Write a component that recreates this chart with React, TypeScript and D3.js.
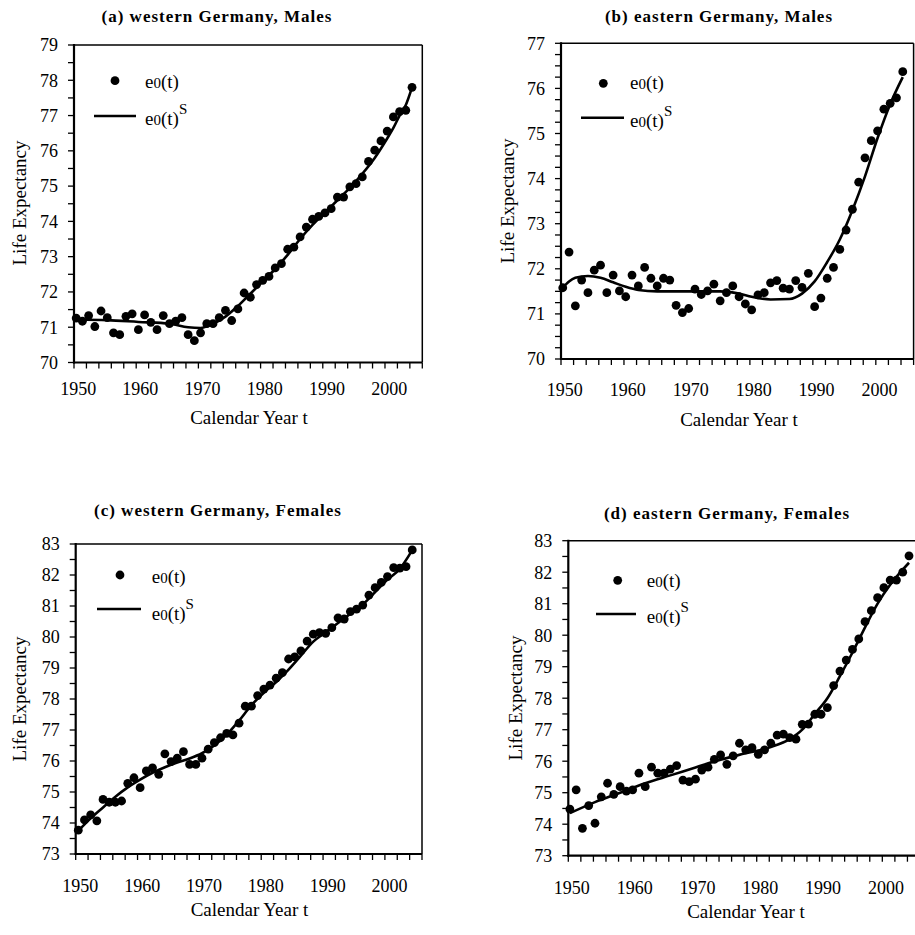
import React from 'react';
import * as d3 from 'd3';

// calendar years of the observed series
const years = [
  1950, 1951, 1952, 1953, 1954, 1955, 1956, 1957, 1958, 1959,
  1960, 1961, 1962, 1963, 1964, 1965, 1966, 1967, 1968, 1969,
  1970, 1971, 1972, 1973, 1974, 1975, 1976, 1977, 1978, 1979,
  1980, 1981, 1982, 1983, 1984, 1985, 1986, 1987, 1988, 1989,
  1990, 1991, 1992, 1993, 1994, 1995, 1996, 1997, 1998, 1999,
  2000, 2001, 2002, 2003, 2004,
];

// observed e0(t)
const westMales = [
  71.26, 71.17, 71.33, 71.02, 71.46, 71.27, 70.84, 70.79, 71.31, 71.38,
  70.93, 71.35, 71.14, 70.93, 71.33, 71.10, 71.17, 71.27, 70.79, 70.62,
  70.84, 71.10, 71.10, 71.27, 71.48, 71.19, 71.52, 71.97, 71.85, 72.21,
  72.33, 72.44, 72.68, 72.80, 73.21, 73.27, 73.56, 73.84, 74.06, 74.14,
  74.24, 74.36, 74.69, 74.69, 74.98, 75.07, 75.26, 75.70, 76.02, 76.28,
  76.56, 76.96, 77.11, 77.15, 77.80,
];
const eastMales = [
  71.58, 72.37, 71.18, 71.75, 71.47, 71.97, 72.08, 71.47, 71.86, 71.51,
  71.38, 71.86, 71.62, 72.03, 71.79, 71.62, 71.79, 71.75, 71.19, 71.03,
  71.12, 71.55, 71.43, 71.51, 71.66, 71.29, 71.47, 71.62, 71.38, 71.22,
  71.09, 71.42, 71.47, 71.69, 71.74, 71.57, 71.55, 71.74, 71.59, 71.90,
  71.16, 71.35, 71.79, 72.03, 72.43, 72.86, 73.32, 73.92, 74.46, 74.84,
  75.06, 75.54, 75.67, 75.79, 76.37,
];
const westFemales = [
  73.77, 74.10, 74.26, 74.07, 74.76, 74.67, 74.67, 74.71, 75.28, 75.46,
  75.14, 75.68, 75.78, 75.57, 76.23, 75.98, 76.09, 76.30, 75.89, 75.89,
  76.09, 76.38, 76.59, 76.75, 76.89, 76.84, 77.22, 77.77, 77.77, 78.11,
  78.32, 78.45, 78.67, 78.85, 79.29, 79.36, 79.55, 79.87, 80.09, 80.14,
  80.12, 80.30, 80.62, 80.58, 80.82, 80.90, 81.03, 81.35, 81.59, 81.76,
  81.95, 82.24, 82.22, 82.27, 82.81,
];
const eastFemales = [
  74.48, 75.09, 73.87, 74.59, 74.03, 74.87, 75.30, 74.95, 75.19, 75.05,
  75.09, 75.62, 75.19, 75.81, 75.62, 75.62, 75.75, 75.86, 75.40, 75.35,
  75.43, 75.72, 75.81, 76.06, 76.20, 75.90, 76.17, 76.57, 76.36, 76.43,
  76.22, 76.36, 76.57, 76.83, 76.86, 76.75, 76.70, 77.17, 77.18, 77.49,
  77.49, 77.70, 78.40, 78.86, 79.21, 79.55, 79.88, 80.43, 80.78, 81.19,
  81.51, 81.75, 81.75, 82.00, 82.52,
];

// smoothed e0(t)^S, read at selected years
const westMalesSmoothYears = [1950, 1955, 1960, 1965, 1968, 1970, 1972, 1974, 1976, 1978, 1980, 1982, 1984, 1986, 1988, 1990, 1992, 1994, 1996, 1998, 2000, 2001, 2002, 2003, 2004];
const westMalesSmooth = [71.22, 71.2, 71.15, 71.1, 71.0, 70.98, 71.1, 71.3, 71.6, 71.95, 72.3, 72.65, 73.05, 73.5, 73.9, 74.25, 74.6, 74.95, 75.35, 75.8, 76.35, 76.65, 77.0, 77.3, 77.8];

const eastMalesSmoothYears = [1950, 1951, 1952, 1954, 1956, 1958, 1960, 1962, 1965, 1970, 1975, 1978, 1980, 1983, 1986, 1988, 1990, 1992, 1994, 1996, 1998, 2000, 2002, 2004];
const eastMalesSmooth = [71.58, 71.72, 71.8, 71.84, 71.8, 71.7, 71.6, 71.53, 71.5, 71.5, 71.5, 71.45, 71.38, 71.32, 71.33, 71.45, 71.72, 72.15, 72.65, 73.3, 74.05, 74.9, 75.65, 76.25];

const westFemalesSmoothYears = [1950, 1952, 1954, 1956, 1958, 1960, 1962, 1964, 1966, 1968, 1970, 1972, 1974, 1976, 1978, 1980, 1982, 1984, 1986, 1988, 1990, 1992, 1994, 1996, 1998, 2000, 2002, 2004];
const westFemalesSmooth = [73.75, 74.15, 74.5, 74.85, 75.15, 75.4, 75.62, 75.8, 75.95, 76.08, 76.25, 76.5, 76.85, 77.3, 77.8, 78.2, 78.55, 78.95, 79.4, 79.85, 80.15, 80.45, 80.75, 81.05, 81.45, 81.85, 82.2, 82.8];

const eastFemalesSmoothYears = [1950, 1954, 1958, 1962, 1966, 1970, 1974, 1978, 1982, 1985, 1987, 1989, 1991, 1993, 1995, 1997, 1999, 2001, 2002, 2004];
const eastFemalesSmooth = [74.35, 74.7, 75.0, 75.3, 75.55, 75.8, 76.05, 76.25, 76.45, 76.7, 77.0, 77.5, 78.0, 78.7, 79.45, 80.25, 81.0, 81.6, 81.85, 82.3];

const yearLabels = [1950, 1960, 1970, 1980, 1990, 2000];

const FONT = "'Liberation Serif', 'Times New Roman', serif";

type Panel = {
  title: string;
  obs: number[];
  sYears: number[];
  sVals: number[];
  yDomain: [number, number];
  yMinor: number;
  xStart: number;
  box: { left: number; right: number; top: number; bottom: number };
  titlePos: [number, number];
  yLabelPos: [number, number];
  xLabelPos: [number, number];
  tickDy: number;
  legend: { dot: [number, number]; line: [number, number, number]; textX: number; t1: number; t2: number };
};

const panels: Panel[] = [
  {
    title: '(a) western Germany, Males',
    obs: westMales, sYears: westMalesSmoothYears, sVals: westMalesSmooth,
    yDomain: [70, 79], yMinor: 0.5, xStart: 1949.65,
    box: { left: 74, right: 422.3, top: 45, bottom: 362.5 },
    titlePos: [217, 22], yLabelPos: [26, 203], xLabelPos: [249, 424], tickDy: 32,
    legend: { dot: [115, 80.7], line: [94, 136, 116], textX: 145, t1: 88, t2: 125 },
  },
  {
    title: '(b) eastern Germany, Males',
    obs: eastMales, sYears: eastMalesSmoothYears, sVals: eastMalesSmooth,
    yDomain: [70, 77], yMinor: 0.25, xStart: 1949.72,
    box: { left: 561, right: 913.6, top: 43.3, bottom: 359 },
    titlePos: [719, 22], yLabelPos: [514, 201], xLabelPos: [739, 426], tickDy: 37,
    legend: { dot: [603.3, 83.3], line: [581, 624, 117.7], textX: 630, t1: 89, t2: 126.7 },
  },
  {
    title: '(c) western Germany, Females',
    obs: westFemales, sYears: westFemalesSmoothYears, sVals: westFemalesSmooth,
    yDomain: [73, 83], yMinor: 0.5, xStart: 1949.58,
    box: { left: 75.7, right: 422, top: 544, bottom: 854 },
    titlePos: [218, 516], yLabelPos: [26, 699], xLabelPos: [249.5, 916], tickDy: 38,
    legend: { dot: [120, 575], line: [97, 141, 609], textX: 151.7, t1: 583, t2: 620 },
  },
  {
    title: '(d) eastern Germany, Females',
    obs: eastFemales, sYears: eastFemalesSmoothYears, sVals: eastFemalesSmooth,
    yDomain: [73, 83], yMinor: 0.5, xStart: 1949.75,
    box: { left: 568.3, right: 920, top: 540.7, bottom: 855.7 },
    titlePos: [727, 519], yLabelPos: [522, 698], xLabelPos: [746, 918], tickDy: 38,
    legend: { dot: [617.7, 580.3], line: [596, 636, 614], textX: 646.7, t1: 586.7, t2: 623 },
  },
];

const E0: React.FC<{ x: number; y: number; sup?: boolean }> = ({ x, y, sup }) => (
  <text x={x} y={y} fontSize={19} fontFamily={FONT}>
    e<tspan fontSize={15}>0</tspan>(t)
    {sup && <tspan fontSize={15} dy={-11}>S</tspan>}
  </text>
);

const ChartPanel: React.FC<{ p: Panel }> = ({ p }) => {
  const { left, right, top, bottom } = p.box;
  const x = d3.scaleLinear().domain([p.xStart, p.xStart + 56]).range([left, right]);
  const y = d3.scaleLinear().domain(p.yDomain).range([bottom, top]);

  const xTicks = d3.range(0, 29).map(k => p.xStart + 2 * k);
  const yMinorTicks = d3.range(p.yDomain[0], p.yDomain[1] + 1e-6, p.yMinor);
  const yMajor = d3.range(p.yDomain[0], p.yDomain[1] + 1e-6, 1);

  const line = d3.line<number>()
    .x((_, i) => x(p.sYears[i]))
    .y(d => y(d))
    .curve(d3.curveMonotoneX);

  return (
    <g>
      <text x={p.titlePos[0]} y={p.titlePos[1]} textAnchor="middle" fontSize={17}
        fontWeight="bold" fontFamily={FONT} letterSpacing={1}>{p.title}</text>

      {/* frame */}
      <line x1={left} x2={right} y1={top} y2={top} stroke="#000" strokeWidth={1.5} />
      <line x1={right} x2={right} y1={top} y2={bottom} stroke="#000" strokeWidth={1.5} />

      {/* y axis */}
      {yMinorTicks.map(v => (
        <line key={'ym' + v} x1={left - 6} x2={left} y1={y(v)} y2={y(v)} stroke="#000" strokeWidth={1.3} />
      ))}
      {yMajor.map(v => (
        <text key={'yl' + v} x={left - 16} y={y(v)} dy="0.35em" textAnchor="end"
          fontSize={18} fontFamily={FONT}>{v}</text>
      ))}
      <line x1={left} x2={left} y1={top - 1} y2={bottom + 1} stroke="#000" strokeWidth={2.2} />

      {/* x axis */}
      {xTicks.map(v => (
        <line key={'xt' + v} x1={x(v)} x2={x(v)} y1={bottom} y2={bottom + 6} stroke="#000" strokeWidth={1.3} />
      ))}
      {yearLabels.map(v => (
        <text key={'xl' + v} x={x(v) + 2} y={bottom + p.tickDy} textAnchor="middle"
          fontSize={18} fontFamily={FONT}>{v}</text>
      ))}
      <line x1={left - 1} x2={right} y1={bottom} y2={bottom} stroke="#000" strokeWidth={2.2} />

      <text x={p.xLabelPos[0]} y={p.xLabelPos[1]} textAnchor="middle" fontSize={19} fontFamily={FONT}>
        Calendar Year t
      </text>
      <text transform={`translate(${p.yLabelPos[0]},${p.yLabelPos[1]}) rotate(-90)`} textAnchor="middle"
        fontSize={19} fontFamily={FONT}>Life Expectancy</text>

      {/* smoothed line */}
      <path d={line(p.sVals) || ''} fill="none" stroke="#000" strokeWidth={2.6} />

      {/* observed */}
      {p.obs.map((v, i) => (
        <circle key={'o' + i} cx={x(years[i])} cy={y(v)} r={4.4} fill="#000" />
      ))}

      {/* legend */}
      <circle cx={p.legend.dot[0]} cy={p.legend.dot[1]} r={4.4} fill="#000" />
      <E0 x={p.legend.textX} y={p.legend.t1} />
      <line x1={p.legend.line[0]} x2={p.legend.line[1]} y1={p.legend.line[2]} y2={p.legend.line[2]}
        stroke="#000" strokeWidth={2.6} />
      <E0 x={p.legend.textX} y={p.legend.t2} sup />
    </g>
  );
};

const App: React.FC = () => (
  <svg width={915} height={935} style={{ position: 'absolute', left: 0, top: 0, background: '#fff' }}>
    <rect width={915} height={935} fill="#fff" />
    {panels.map(p => <ChartPanel key={p.title} p={p} />)}
  </svg>
);

export default App;
